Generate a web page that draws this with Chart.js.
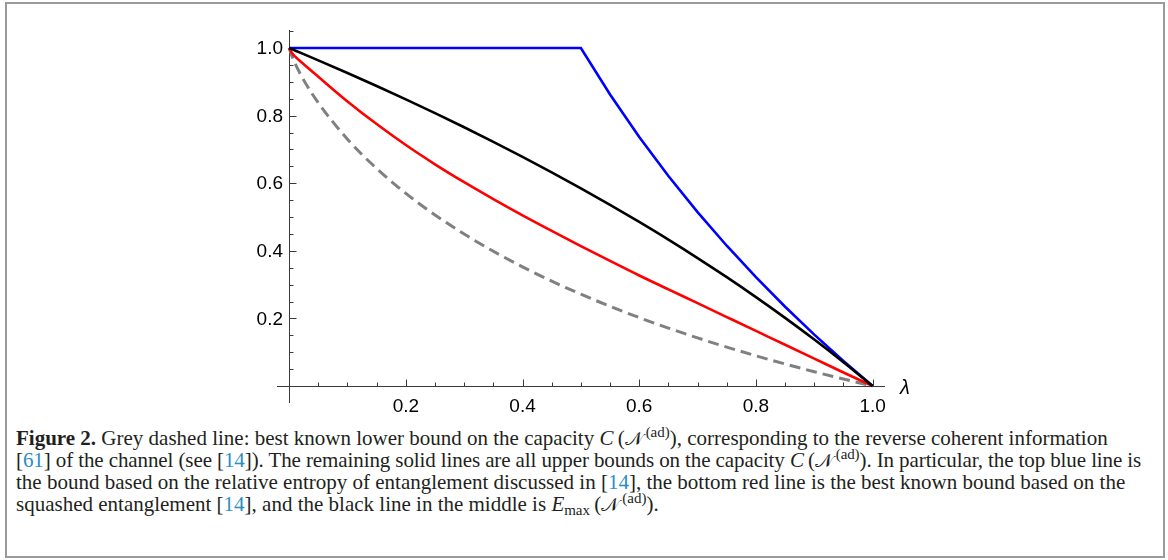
<!DOCTYPE html>
<html>
<head>
<meta charset="utf-8">
<script src="https://cdn.jsdelivr.net/npm/chart.js@4.4.1/dist/chart.umd.min.js"></script>
<style>
  html, body { margin: 0; padding: 0; background: #fff; }
  #frame { position: absolute; left: 5px; top: 2px; width: 1160px; height: 556px; box-sizing: border-box; border: 2px solid #9a9a9a; }
  #c { position: absolute; left: 0; top: 0; }
  #cap { position: absolute; left: 16px; top: 427px; font-family: "Liberation Serif", "Times New Roman", serif; font-size: 21px; line-height: 22px; color: #231f20; white-space: nowrap; }
  #cap .ref { color: #2a8ec2; }
  #cap sup { font-size: 15px; position: relative; top: -8px; vertical-align: baseline; line-height: 0; padding-left: 3px; }
  #cap sub { font-size: 15px; position: relative; top: 4px; vertical-align: baseline; line-height: 0; }
  #cap i { font-style: italic; }
  #cap .cal { font-family: "DejaVu Serif", "DejaVu Sans", "Noto Sans", serif; font-style: normal; font-size: 19px; }
  #cap .l2 { letter-spacing: -0.1px; }
</style>
</head>
<body>
<div id="frame"></div>
<canvas id="c" width="1168" height="420"></canvas>
<div id="cap">
<b>Figure 2.</b> Grey dashed line: best known lower bound on the capacity <i>C</i>&thinsp;(<span class="cal">𝒩</span><sup>(ad)</sup>), corresponding to the reverse coherent information<br>
<span class="l2">[<span class="ref">61</span>] of the channel (see [<span class="ref">14</span>]). The remaining solid lines are all upper bounds on the capacity <i>C</i>&thinsp;(<span class="cal">𝒩</span><sup>(ad)</sup>). In particular, the top blue line is</span><br>
the bound based on the relative entropy of entanglement discussed in [<span class="ref">14</span>], the bottom red line is the best known bound based on the<br>
squashed entanglement [<span class="ref">14</span>], and the black line in the middle is <i>E</i><sub>max</sub>&thinsp;(<span class="cal">𝒩</span><sup>(ad)</sup>).
</div>
<script>
// ---- data ----
const lambdaGrid = [0, 0.005, 0.01, 0.025, 0.05, 0.1, 0.15, 0.2, 0.25, 0.3, 0.35, 0.4, 0.45, 0.5, 0.55, 0.6, 0.65, 0.7, 0.75, 0.8, 0.85, 0.9, 0.95, 1.0];
const greyLowerBound = [1.0, 0.975, 0.955, 0.905, 0.838, 0.730, 0.6435, 0.570, 0.506, 0.4495, 0.3986, 0.3525, 0.3103, 0.2716, 0.2357, 0.2024, 0.1714, 0.1423, 0.1151, 0.0894, 0.0652, 0.0423, 0.0206, 0.0];
const redSquashed = [1.0, 0.985, 0.975, 0.952, 0.915, 0.842, 0.775, 0.713, 0.656, 0.603, 0.553, 0.505, 0.459, 0.414, 0.370, 0.327, 0.286, 0.245, 0.204, 0.163, 0.122, 0.081, 0.040, 0.0];
const blackEmax = [1.0, 0.9964, 0.9928, 0.9819, 0.9635, 0.9260, 0.8875, 0.8480, 0.8074, 0.7655, 0.7225, 0.6781, 0.6323, 0.5850, 0.5361, 0.4854, 0.4330, 0.3785, 0.3219, 0.2630, 0.2016, 0.1375, 0.0704, 0.0];
const blueRelEnt = [1.0, 1.0, 1.0, 1.0, 1.0, 1.0, 1.0, 1.0, 1.0, 1.0, 1.0, 1.0, 1.0, 1.0, 0.8625, 0.7370, 0.6215, 0.5146, 0.4150, 0.3219, 0.2345, 0.1520, 0.0740, 0.0];

const xTickValues = [0.2, 0.4, 0.6, 0.8, 1.0];
const xTickLabels = ['0.2', '0.4', '0.6', '0.8', '1.0'];
const yTickValues = [0.2, 0.4, 0.6, 0.8, 1.0];
const yTickLabels = ['0.2', '0.4', '0.6', '0.8', '1.0'];
const xMinorStep = 0.05, xMinorMax = 1.0;
const yMinorStep = 0.05, yMinorMax = 1.05;
const xAxisTitle = 'λ';

function pts(ys) { return lambdaGrid.map((x, i) => ({ x: x, y: ys[i] })); }

const axesPlugin = {
  id: 'mmaAxes',
  beforeDatasetsDraw(chart) {
    const ctx = chart.ctx, xs = chart.scales.x, ys = chart.scales.y, ca = chart.chartArea;
    const x0 = Math.round(xs.getPixelForValue(0)) + 0.5;
    const y0 = Math.round(ys.getPixelForValue(0)) + 0.5;
    ctx.save();
    ctx.strokeStyle = '#3a3a3a';
    ctx.lineWidth = 1;
    ctx.beginPath();
    ctx.moveTo(ca.left, y0); ctx.lineTo(ca.right, y0);
    ctx.moveTo(x0, ca.top); ctx.lineTo(x0, ca.bottom);
    for (let k = 1; k * xMinorStep <= xMinorMax + 1e-9; k++) {
      const v = k * xMinorStep;
      const px = Math.round(xs.getPixelForValue(v)) + 0.5;
      const len = (k % 4 === 0) ? 7 : 4;
      ctx.moveTo(px, y0); ctx.lineTo(px, y0 - len);
    }
    for (let k = 1; k * yMinorStep <= yMinorMax + 1e-9; k++) {
      const v = k * yMinorStep;
      const py = Math.round(ys.getPixelForValue(v)) + 0.5;
      const len = (k % 4 === 0) ? 7 : 4;
      ctx.moveTo(x0, py); ctx.lineTo(x0 + len, py);
    }
    ctx.stroke();
    ctx.fillStyle = '#000';
    ctx.font = '19px "Liberation Sans", Arial, sans-serif';
    ctx.textAlign = 'center';
    ctx.textBaseline = 'middle';
    xTickValues.forEach((v, i) => {
      ctx.fillText(xTickLabels[i], xs.getPixelForValue(v), y0 + 20);
    });
    ctx.textAlign = 'right';
    yTickValues.forEach((v, i) => {
      ctx.fillText(yTickLabels[i], x0 - 6.5, ys.getPixelForValue(v) + 1);
    });
    ctx.textAlign = 'left';
    ctx.font = 'italic 20px "Liberation Sans", Arial, sans-serif';
    ctx.fillText(xAxisTitle, ca.right + 15, y0 + 2);
    ctx.restore();
  }
};

new Chart(document.getElementById('c'), {
  type: 'scatter',
  data: {
    datasets: [
      { label: 'E_max', data: pts(blackEmax), showLine: true, borderColor: '#000000', borderWidth: 2.6, pointRadius: 0, fill: false, cubicInterpolationMode: 'monotone' },
      { label: 'relative entropy', data: pts(blueRelEnt), showLine: true, borderColor: '#0000ff', borderWidth: 2.6, pointRadius: 0, fill: false, tension: 0 },
      { label: 'squashed', data: pts(redSquashed), showLine: true, borderColor: '#ff0000', borderWidth: 2.6, pointRadius: 0, fill: false, cubicInterpolationMode: 'monotone' },
      { label: 'reverse coherent information', data: pts(greyLowerBound), showLine: true, borderColor: '#808080', borderWidth: 3, borderDash: [11, 6], pointRadius: 0, fill: false, cubicInterpolationMode: 'monotone' }
    ]
  },
  options: {
    responsive: false,
    animation: false,
    devicePixelRatio: 1,
    layout: { padding: { left: 277, right: 283, top: 30, bottom: 17 } },
    plugins: { legend: { display: false }, tooltip: { enabled: false } },
    scales: {
      x: { type: 'linear', min: -0.0208, max: 1.0212, display: false },
      y: { type: 'linear', min: -0.0503, max: 1.0533, display: false }
    }
  },
  plugins: [axesPlugin]
});
</script>
</body>
</html>
